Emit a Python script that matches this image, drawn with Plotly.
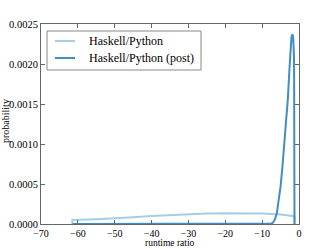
import plotly.graph_objects as go

# Haskell/Python (broad)
pre_x = [-61.5, -61.5, -55, -50, -45, -40, -35, -30, -25, -20, -15, -10, -5, -2, -1.2, -1.2]
pre_y = [0.0, 0.00005, 0.00006, 0.00007, 0.000085, 0.0001, 0.000113, 0.000123, 0.00013, 0.000134, 0.000133, 0.00013, 0.000118, 0.000103, 0.000098, 0.0]

# Haskell/Python (post), peaked near -2
post_x = [-61.5, -10, -8, -7.5, -7, -6.5, -6, -5.5, -5, -4.5, -4, -3.5, -3, -2.6, -2.3, -2.05, -1.85, -1.7, -1.55, -1.45, -1.38, -1.33, -1.3, -1.27, -1.24, -1.22]
post_y = [0.0, 0.0, 0.0, 0.000005, 0.00002, 0.00006, 0.00014, 0.00029, 0.00047, 0.00071, 0.00097, 0.00126, 0.00158, 0.00193, 0.00218, 0.00233, 0.00237, 0.00236, 0.0023, 0.00222, 0.00212, 0.0019, 0.0016, 0.0011, 0.0005, 0.0]

x_ticks = [-70, -60, -50, -40, -30, -20, -10, 0]
x_ticktext = ["\u221270", "\u221260", "\u221250", "\u221240", "\u221230", "\u221220", "\u221210", "0"]
y_ticks = [0.0, 0.0005, 0.0010, 0.0015, 0.0020, 0.0025]
y_ticktext = ["0.0000", "0.0005", "0.0010", "0.0015", "0.0020", "0.0025"]

labels = ["Haskell/Python", "Haskell/Python (post)"]
colors = ["#a6cee3", "#3f8fc6"]

font = "Liberation Serif"

fig = go.Figure()
fig.add_trace(go.Scatter(x=pre_x, y=pre_y, mode="lines", name=labels[0],
                         line=dict(color=colors[0], width=2), showlegend=False))
fig.add_trace(go.Scatter(x=post_x, y=post_y, mode="lines", name=labels[1],
                         line=dict(color=colors[1], width=2), showlegend=False))

axis_common = dict(showline=True, linecolor="#666666", linewidth=1, mirror="ticks",
                   ticks="inside", ticklen=4, tickcolor="#666666", showgrid=False,
                   zeroline=False, automargin=False)

W, H = 332, 249
L, R, T, B = 41, 33, 24, 25
pw, ph = W - L - R, H - T - B

def px(x):
    return (x - L) / pw

def py(y):
    return 1 - (y - T) / ph

shapes = []
annotations = []
# legend box (paper coordinates)
shapes.append(dict(type="rect", xref="paper", yref="paper",
                   x0=px(47), x1=px(201), y0=py(70), y1=py(31),
                   line=dict(color="#888888", width=1), fillcolor="white", layer="above"))
for i, (lab, col) in enumerate(zip(labels, colors)):
    yy = 41 + 17 * i
    shapes.append(dict(type="line", xref="paper", yref="paper",
                       x0=px(55), x1=px(75), y0=py(yy), y1=py(yy),
                       line=dict(color=col, width=2), layer="above"))
    annotations.append(dict(text=lab, xref="paper", yref="paper", x=px(87), y=py(yy),
                            xanchor="left", yanchor="middle", showarrow=False,
                            font=dict(family=font, size=12, color="black")))

annotations.append(dict(text="runtime ratio", xref="paper", yref="paper",
                        x=px(170), y=py(249), xanchor="center", yanchor="bottom",
                        showarrow=False, borderpad=0,
                        font=dict(family=font, size=9.5, color="black")))
annotations.append(dict(text="probability", xref="paper", yref="paper",
                        x=px(5), y=py(121), xanchor="center", yanchor="middle",
                        textangle=-90, showarrow=False,
                        font=dict(family=font, size=10, color="black")))

fig.update_layout(
    width=W, height=H,
    margin=dict(l=L, r=R, t=T, b=B),
    paper_bgcolor="white", plot_bgcolor="white",
    font=dict(family=font, color="black"),
    showlegend=False,
    xaxis=dict(range=[-70, 0], tickvals=x_ticks, ticktext=x_ticktext,
               tickfont=dict(family=font, size=10, color="black"), **axis_common),
    yaxis=dict(range=[0, 0.0025], tickvals=y_ticks, ticktext=y_ticktext,
               tickfont=dict(family=font, size=10.5, color="black"), **axis_common),
    shapes=shapes,
    annotations=annotations,
)

fig.write_html("out.html", config={"displayModeBar": False},
               post_script="document.body.style.margin='0';document.body.style.padding='0';")
